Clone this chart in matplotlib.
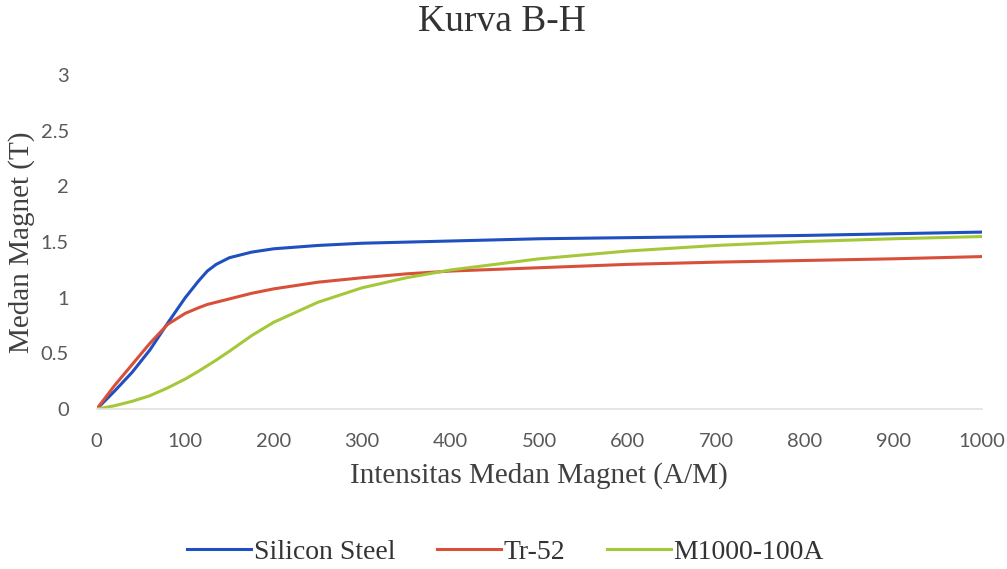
import matplotlib.pyplot as plt

# B-H curve values
h = [0, 20, 40, 60, 80, 100, 115, 125, 135, 150, 175, 200, 250, 300, 350, 400,
     500, 600, 700, 800, 900, 1000]
silicon_steel = [0, 0.16, 0.33, 0.53, 0.77, 1.00, 1.15, 1.24, 1.30, 1.36, 1.41, 1.44, 1.47, 1.49, 1.50, 1.51,
                 1.53, 1.54, 1.55, 1.56, 1.575, 1.59]
tr52 = [0, 0.21, 0.40, 0.59, 0.76, 0.86, 0.91, 0.94, 0.96, 0.99, 1.04, 1.08, 1.14, 1.18, 1.215, 1.24,
        1.27, 1.30, 1.32, 1.335, 1.35, 1.37]
m1000 = [0, 0.03, 0.07, 0.12, 0.19, 0.27, 0.34, 0.39, 0.44, 0.52, 0.66, 0.78, 0.96, 1.09, 1.18, 1.25,
         1.35, 1.42, 1.47, 1.505, 1.53, 1.55]
xticks = [0, 100, 200, 300, 400, 500, 600, 700, 800, 900, 1000]
yticks = [0, 0.5, 1, 1.5, 2, 2.5, 3]
ytick_labels = ["0", "0.5", "1", "1.5", "2", "2.5", "3"]

serif = "Liberation Serif"
tickfont = "Lato"

fig = plt.figure(figsize=(10.07, 5.69), dpi=100)
ax = fig.add_axes([0.096, 0.281, 0.879, 0.587])

ax.plot(h, silicon_steel, color="#1f4fc0", lw=2.2, label="Silicon Steel", solid_joinstyle="round")
ax.plot(h, tr52, color="#d9503a", lw=2.2, label="Tr-52", solid_joinstyle="round")
ax.plot(h, m1000, color="#a5c83a", lw=2.2, label="M1000-100A", solid_joinstyle="round")

ax.set_xlim(0, 1000)
ax.set_ylim(0, 3)
ax.set_xticks(xticks)
ax.set_yticks(yticks)
ax.set_yticklabels(ytick_labels)
for s in ["top", "right", "left"]:
    ax.spines[s].set_visible(False)
ax.spines["bottom"].set_color("#e0e0e0")
ax.spines["bottom"].set_linewidth(1.2)
ax.tick_params(length=0, labelsize=14.5, labelcolor="#595959")
ax.tick_params(axis="x", pad=17)
ax.tick_params(axis="y", pad=20)
for lab in ax.get_xticklabels() + ax.get_yticklabels():
    lab.set_fontfamily(tickfont)

fig.text(0.498, 0.961, "Kurva B-H", ha="center", va="center", fontsize=27, family=serif, color="#333333")
ax.set_xlabel("Intensitas Medan Magnet (A/M)", fontsize=21, family=serif, color="#404040", labelpad=9)
ax.set_ylabel("Medan Magnet (T)", fontsize=21, family=serif, color="#404040", labelpad=4)

fig.legend(loc="center", bbox_to_anchor=(0.502, 0.03), ncol=3, frameon=False,
           prop={"family": serif, "size": 20}, handlelength=2.3, handletextpad=0.1, columnspacing=1.5,
           labelcolor="#333333")

fig.savefig("out.png", dpi=100)
